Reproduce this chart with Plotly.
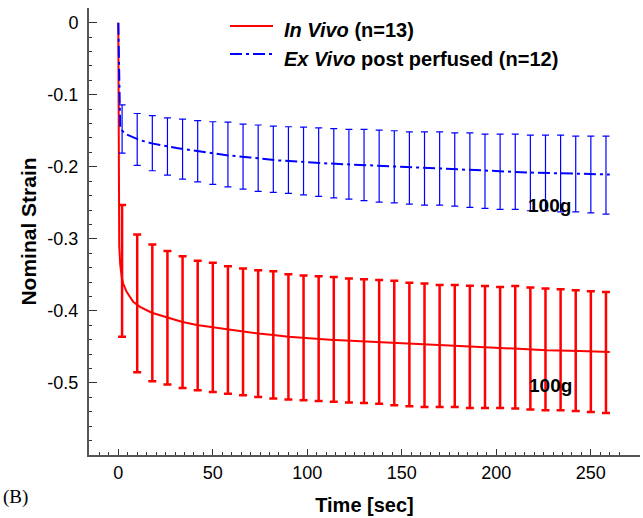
import plotly.graph_objects as go

# ---------------- data ----------------
# mean curves
invivo_t = [0, 0.2, 0.5, 1.0, 1.8, 2.6, 4.4, 7.9, 11.5, 17.7, 25.6, 33.5, 41.5, 50.3,
            59.1, 66.1, 74.1, 82.0, 90.0, 112.0, 138.5, 154.0, 173.8, 191.4, 209.0,
            226.7, 244.3, 260.0]
invivo_mean = [0, -0.25, -0.31, -0.335, -0.353, -0.362, -0.3736, -0.3875, -0.3944,
               -0.4025, -0.409, -0.415, -0.4195, -0.423, -0.4265, -0.429, -0.4315,
               -0.4335, -0.436, -0.440, -0.443, -0.4453, -0.4476, -0.45, -0.4523,
               -0.4546, -0.4555, -0.457]

exvivo_t = [0, 0.5, 1.0, 1.5, 3.5, 11.5, 17.7, 30.9, 43.2, 57.4, 69.7, 83.8, 112.0,
            138.5, 164.9, 191.4, 217.9, 244.3, 260.0]
exvivo_mean = [0, -0.11, -0.146, -0.148, -0.154, -0.163, -0.1675, -0.174, -0.179,
               -0.184, -0.187, -0.191, -0.1955, -0.1986, -0.202, -0.2055, -0.208,
               -0.2097, -0.2106]

# error bar positions and extents
bar_t = [2, 10, 18, 26, 34, 42, 50, 58, 66, 74, 82, 90, 98, 106, 114, 122, 130,
         138, 146, 154, 162, 170, 178, 186, 194, 202, 210, 218, 226, 234, 242, 250, 258]

invivo_top = [-0.253, -0.294, -0.308, -0.317, -0.324, -0.3305, -0.333, -0.338, -0.341,
              -0.3435, -0.345, -0.349, -0.351, -0.352, -0.353, -0.355, -0.356, -0.357,
              -0.358, -0.361, -0.362, -0.364, -0.364, -0.365, -0.3656, -0.3667, -0.3656,
              -0.3675, -0.369, -0.370, -0.3713, -0.3727, -0.3736]
invivo_bottom = [-0.436, -0.485, -0.4976, -0.502, -0.507, -0.510, -0.5125, -0.515, -0.517,
                 -0.5195, -0.5217, -0.523, -0.524, -0.525, -0.526, -0.527, -0.528, -0.529,
                 -0.531, -0.5324, -0.5333, -0.5333, -0.5333, -0.5347, -0.5347, -0.5347,
                 -0.5356, -0.537, -0.538, -0.538, -0.539, -0.5403, -0.5417]

exvivo_top = [-0.114, -0.126, -0.129, -0.132, -0.1337, -0.136, -0.1375, -0.138, -0.1407,
              -0.142, -0.1435, -0.1444, -0.145, -0.146, -0.147, -0.148, -0.148, -0.149,
              -0.150, -0.1514, -0.1514, -0.1514, -0.1528, -0.1528, -0.1546, -0.1546,
              -0.1546, -0.156, -0.156, -0.156, -0.1574, -0.1574, -0.1574]
exvivo_bottom = [-0.181, -0.198, -0.2055, -0.2115, -0.217, -0.221, -0.2245, -0.228, -0.231,
                 -0.234, -0.2355, -0.237, -0.239, -0.241, -0.243, -0.245, -0.247, -0.249,
                 -0.25, -0.2518, -0.2532, -0.2532, -0.2546, -0.2564, -0.2578, -0.2592,
                 -0.2592, -0.261, -0.261, -0.2625, -0.2625, -0.264, -0.2657]

x_tickvals = [0, 50, 100, 150, 200, 250]
x_ticktext = ["0", "50", "100", "150", "200", "250"]
y_tickvals = [0, -0.1, -0.2, -0.3, -0.4, -0.5]
y_ticktext = ["0", "-0.1", "-0.2", "-0.3", "-0.4", "-0.5"]

legend_labels = ["<b><i>In Vivo</i> (n=13)</b>", "<b><i>Ex Vivo</i> post perfused (n=12)</b>"]
load_label = "100g"
panel_label = "(B)"

# ---------------- styling ----------------
W, H = 643, 518
ML, MR, MT, MB = 89, 3, 8, 63
PW, PH = W - ML - MR, H - MT - MB
FONT = "Liberation Sans, Arial, Helvetica, sans-serif"
RED = "#ff0000"
BLUE = "#0000ff"
DASH = "12px,4px,3px,4px"


def px_x(x):
    return (x - ML) / PW


def px_y(y):
    return (H - MB - y) / PH


def centers(top, bottom):
    return [(a + b) / 2 for a, b in zip(top, bottom)]


def halfs(top, bottom):
    return [(a - b) / 2 for a, b in zip(top, bottom)]


fig = go.Figure()

fig.add_trace(go.Scatter(x=invivo_t, y=invivo_mean, mode="lines",
                         line=dict(color=RED, width=2), showlegend=False))
fig.add_trace(go.Scatter(x=bar_t, y=centers(invivo_top, invivo_bottom), mode="markers",
                         marker=dict(color="rgba(0,0,0,0)", size=1),
                         error_y=dict(type="data", array=halfs(invivo_top, invivo_bottom),
                                      color=RED, thickness=2.5, width=4),
                         showlegend=False))
fig.add_trace(go.Scatter(x=exvivo_t, y=exvivo_mean, mode="lines",
                         line=dict(color=BLUE, width=2, dash=DASH), showlegend=False))
fig.add_trace(go.Scatter(x=bar_t, y=centers(exvivo_top, exvivo_bottom), mode="markers",
                         marker=dict(color="rgba(0,0,0,0)", size=1),
                         error_y=dict(type="data", array=halfs(exvivo_top, exvivo_bottom),
                                      color=BLUE, thickness=1.2, width=3.5),
                         showlegend=False))

# manual legend
fig.add_shape(type="line", xref="paper", yref="paper", x0=px_x(230), x1=px_x(273),
              y0=px_y(26), y1=px_y(26), line=dict(color=RED, width=2))
fig.add_shape(type="line", xref="paper", yref="paper", x0=px_x(230), x1=px_x(273),
              y0=px_y(54), y1=px_y(54), line=dict(color=BLUE, width=2, dash=DASH))
for lab, yy in zip(legend_labels, [30, 59]):
    fig.add_annotation(text=lab, xref="paper", yref="paper", x=px_x(282), y=px_y(yy),
                       xanchor="left", yanchor="middle", showarrow=False,
                       font=dict(family=FONT, size=20, color="black"))

fig.add_annotation(text="<b>" + load_label + "</b>", x=228, y=-0.2535, showarrow=False,
                   font=dict(family=FONT, size=19, color="black"))
fig.add_annotation(text="<b>" + load_label + "</b>", x=228.7, y=-0.503, showarrow=False,
                   font=dict(family=FONT, size=19, color="black"))
fig.add_annotation(text=panel_label, xref="paper", yref="paper", x=px_x(1), y=px_y(497),
                   xanchor="left", yanchor="middle", showarrow=False,
                   font=dict(family="Liberation Serif, Times New Roman, serif", size=19,
                             color="black"))

fig.update_layout(
    width=W, height=H,
    margin=dict(l=ML, r=MR, t=MT, b=MB, autoexpand=False),
    paper_bgcolor="white", plot_bgcolor="white",
    font=dict(family=FONT, color="black"),
    showlegend=False,
)
fig.update_xaxes(
    range=[-15.5, 276], showgrid=False, zeroline=False,
    showline=True, linecolor="#555", linewidth=2,
    tickmode="array", tickvals=x_tickvals, ticktext=x_ticktext,
    ticks="inside", ticklen=6, tickwidth=1, tickcolor="#333",
    tickfont=dict(family=FONT, size=18, color="black"),
    minor=dict(tickmode="array", tickvals=list(range(-15, 266, 5)), ticks="inside",
               ticklen=3, tickwidth=1, tickcolor="#333", showgrid=False),
    title=dict(text="Time [sec]", font=dict(family=FONT, size=20, weight="bold"),
               standoff=16),
    automargin=False,
)
fig.update_yaxes(
    range=[-0.6, 0.0204], showgrid=False, zeroline=False,
    showline=True, linecolor="#555", linewidth=2,
    tickmode="array", tickvals=y_tickvals, ticktext=y_ticktext,
    ticks="inside", ticklen=8, tickwidth=1, tickcolor="#333",
    tickfont=dict(family=FONT, size=18, color="black"),
    ticklabelstandoff=5,
    minor=dict(tickmode="array", tickvals=[round(-0.02 * k, 2) for k in range(1, 30)],
               ticks="inside", ticklen=3, tickwidth=1, tickcolor="#333", showgrid=False),
    title=dict(text="Nominal Strain", font=dict(family=FONT, size=21, weight="bold"),
               standoff=5),
    automargin=False,
)

fig.write_html("out.html")
